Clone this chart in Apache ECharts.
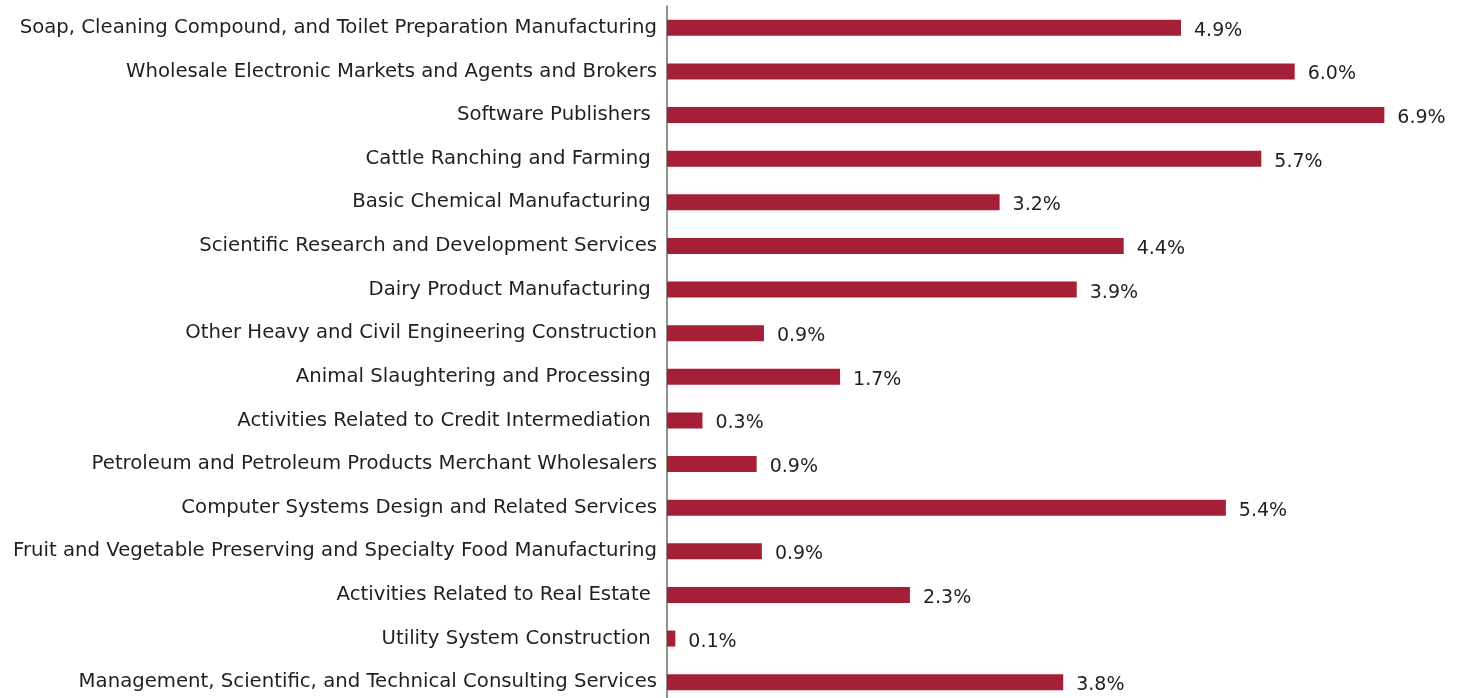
<!DOCTYPE html>
<html>
<head>
<meta charset="utf-8">
<script src="https://cdn.jsdelivr.net/npm/echarts@6/dist/echarts.min.js"></script>
<style>
html,body{margin:0;padding:0;background:#fff;overflow:hidden;}
#chart{width:1464px;height:704px;}
</style>
</head>
<body>
<div id="chart"></div>
<script>
const categories = [
  "Soap, Cleaning Compound, and Toilet Preparation Manufacturing",
  "Wholesale Electronic Markets and Agents and Brokers",
  "Software Publishers ",
  "Cattle Ranching and Farming ",
  "Basic Chemical Manufacturing ",
  "Scientific Research and Development Services",
  "Dairy Product Manufacturing ",
  "Other Heavy and Civil Engineering Construction",
  "Animal Slaughtering and Processing ",
  "Activities Related to Credit Intermediation ",
  "Petroleum and Petroleum Products Merchant Wholesalers",
  "Computer Systems Design and Related Services",
  "Fruit and Vegetable Preserving and Specialty Food Manufacturing",
  "Activities Related to Real Estate ",
  "Utility System Construction ",
  "Management, Scientific, and Technical Consulting Services"
];
// share (%); labels show one decimal
const shareValues = [4.93, 6.02, 6.88, 5.70, 3.19, 4.38, 3.93, 0.93, 1.66, 0.34, 0.86, 5.36, 0.91, 2.33, 0.08, 3.80];

const chart = echarts.init(document.getElementById('chart'), null, {renderer: 'canvas'});
chart.setOption({
  animation: false,
  backgroundColor: '#ffffff',
  grid: {left: 667, right: 15, top: 6, bottom: 0, containLabel: false},
  xAxis: {
    type: 'value', min: 0, max: 7.5,
    show: false
  },
  yAxis: {
    type: 'category',
    data: categories,
    inverse: true,
    axisLine: {show: true, lineStyle: {color: '#6b6b6b', width: 1.5}},
    axisTick: {show: false},
    axisLabel: {
      fontFamily: 'DejaVu Sans',
      fontSize: 19.7,
      color: '#231f20',
      margin: 10,
      padding: [4, 0, 0, 0]
    }
  },
  series: [{
    type: 'bar',
    data: shareValues,
    barWidth: 16,
    itemStyle: {color: '#a51f36'},
    label: {
      show: true,
      position: 'right',
      distance: 13,
      offset: [0, 3],
      fontFamily: 'DejaVu Sans',
      fontSize: 19,
      color: '#231f20',
      formatter: p => p.value.toFixed(1) + '%'
    }
  }]
});
</script>
</body>
</html>
